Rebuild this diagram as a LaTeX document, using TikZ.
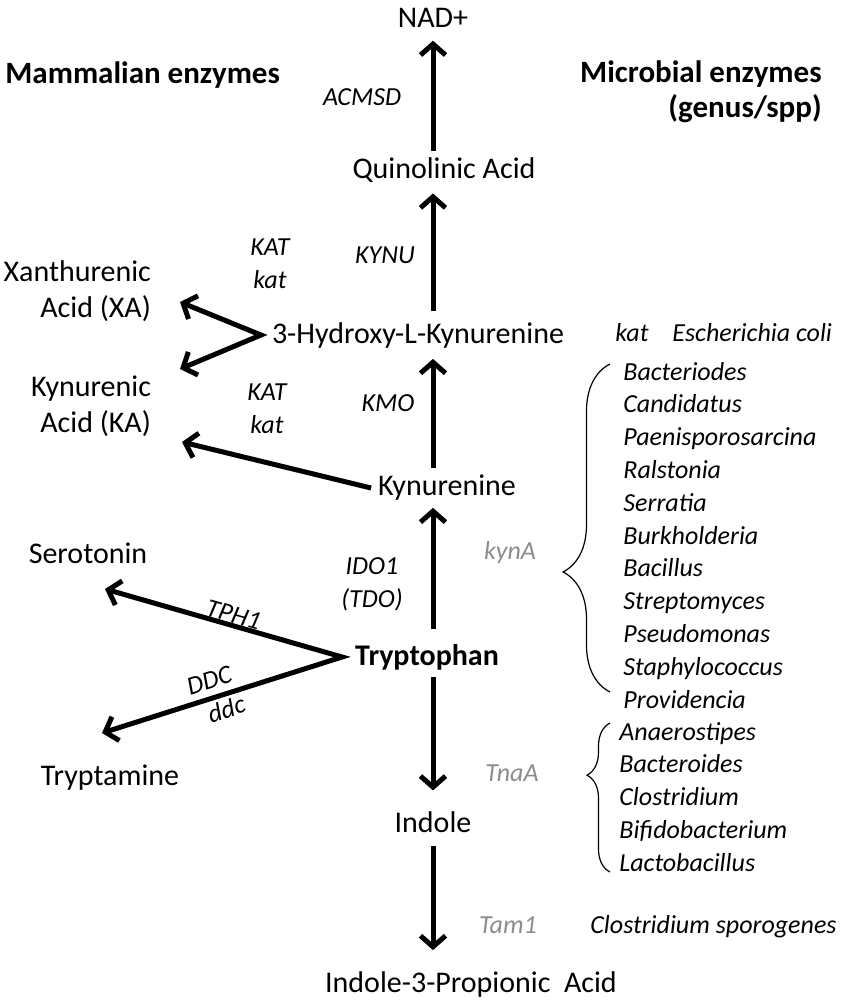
\documentclass[tikz,border=0pt]{standalone}
\usepackage{fontspec}
\setmainfont{Carlito}
\usetikzlibrary{arrows.meta,decorations.pathreplacing}

\begin{document}
\begin{tikzpicture}[
  x=0.5pt, y=-0.5pt,
  font=\fontsize{15}{18}\selectfont,
  >={Straight Barb[length=5.5pt,width=12.5pt]},
  flux/.style={->, line width=2.5pt},
  enz/.style={font=\fontsize{13}{16.5}\selectfont\itshape},
  microbe/.style={enz, text=black!45},
  species/.style={enz, anchor=base west, inner sep=0pt},
  head/.style={font=\fontsize{15.5}{17.5}\selectfont\bfseries, inner sep=0pt},
  genus/.style={decorate, line width=0.6pt},
]
% Coordinate system: 1 unit = 1 pixel of the 850 x 1003 reference, y downwards
\useasboundingbox (0,0) rectangle (850,1003);

% --- Headings ---
\node[head, anchor=west] (mam) at (5,75) {Mammalian enzymes};
\node[head, anchor=east, align=right] (mic) at (822,92) {Microbial enzymes\\(genus/spp)};

% --- Metabolites ---
\node (nad) at (433,18) {NAD+};
\node (quin) at (444,170) {Quinolinic Acid};
\node (hk) at (418,335) {3-Hydroxy-L-Kynurenine};
\node (kyn) at (447,488) {Kynurenine};
\node[font=\fontsize{15}{18}\selectfont\bfseries] (trp) at (427,657) {Tryptophan};
\node (indole) at (433,822) {Indole};
\node (ipa) at (471,984) {Indole-3-Propionic\ \ Acid};
\node[align=right, anchor=east] (xa) at (158,291) {Xanthurenic\\Acid (XA)};
\node[align=right, anchor=east] (ka) at (158,406) {Kynurenic\\Acid (KA)};
\node (sero) at (88,553) {Serotonin};
\node (trpa) at (110,778) {Tryptamine};

% --- Free arrow ends ---
\coordinate (xatip) at (180,302);
\coordinate (katip) at (180,369);
\coordinate (kyntip) at (182,442);
\coordinate (serotip) at (105,589);
\coordinate (trpatip) at (102,733);
\coordinate (trpfork) at ([xshift=-3pt]trp.west);

% --- Main pathway ---
\draw[flux, shorten >=3pt] (quin.north -| nad) -- (nad.south);
\draw[flux, shorten >=2pt, shorten <=2pt] (hk.north -| nad) -- (quin.south -| nad);
\draw[flux, shorten >=2pt] (kyn.north -| nad) -- (hk.south -| nad);
\draw[flux, shorten <=4pt] (trp.north -| nad) -- (kyn.south -| nad);
\draw[flux, shorten >=7pt] (trp.south -| nad) -- (indole.north);
\draw[flux, shorten <=3pt, shorten >=7pt] (indole.south) -- (ipa.north -| indole);

% --- Side branches ---
\draw[flux, <->, line join=miter] (xatip) -- ([xshift=-2pt]hk.west) -- (katip);
\draw[flux] (kyn.west) -- (kyntip);
\draw[flux, <->, line join=miter] (serotip) -- (trpfork) -- (trpatip);

% --- Enzymes ---
\node[enz] (acmsd) at (362,97) {ACMSD};
\node[enz] (kynu) at (385,255) {KYNU};
\node[enz, align=center] (kat1) at (270,264) {KAT\\kat};
\node[enz] (kmo) at (388,403) {KMO};
\node[enz, align=center] (kat2) at (267,409) {KAT\\kat};
\node[enz, align=center] (ido) at (372,584) {IDO1\\(TDO)};
\path (serotip) -- node[enz, sloped, above, inner sep=1pt, pos=0.53] (tph) {TPH1} (trpfork);
\path (trpatip) -- node[enz, sloped, above, inner sep=4.5pt, pos=0.47] (ddc1) {DDC}
                   node[enz, sloped, below, inner sep=2.5pt, pos=0.5] (ddc2) {ddc} (trpfork);
\node[microbe] (kyna) at (510,553) {kynA};
\node[microbe] (tnaa) at (512,773) {TnaA};
\node[microbe] (tam1) at (508,925) {Tam1};

% --- Microbes ---
\node[species] (ecolikat) at (615,341) {kat};
\node[species] (ecoli) at (672,341) {Escherichia coli};
\node[species] (csporo) at (590,933) {Clostridium sporogenes};

\foreach \name [count=\i from 0] in {Bacteriodes,Candidatus,Paenisporosarcina,
    Ralstonia,Serratia,Burkholderia,Bacillus,Streptomyces,Pseudomonas,
    Staphylococcus,Providencia}
  \node[species] (kyna-\i) at (623,380+32.8*\i) {\name};

\foreach \name [count=\i from 0] in {Anaerostipes,Bacteroides,Clostridium,
    Bifidobacterium,Lactobacillus}
  \node[species] (tnaa-\i) at (619,740+32.75*\i) {\name};

% --- Braces ---
\draw[genus, decoration={brace, amplitude=23.5pt, aspect=0.366}] (610,692) -- (610,364);
\draw[genus, decoration={brace, amplitude=11.5pt, aspect=0.65}] (610,872) -- (610,723);

\end{tikzpicture}
\end{document}
